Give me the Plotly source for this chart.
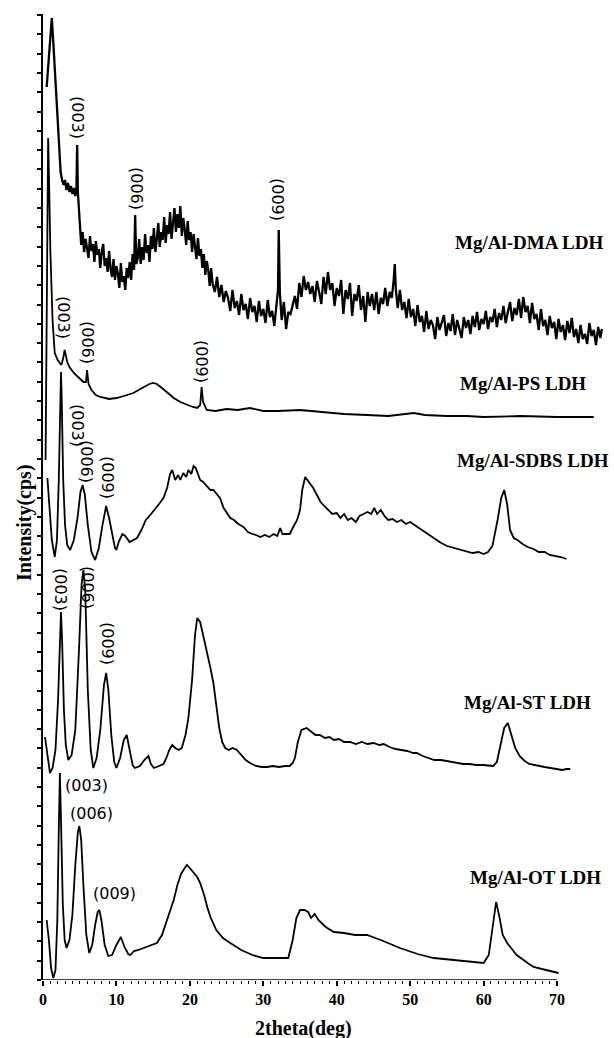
import plotly.graph_objects as go

# ---------------- data (2theta in deg, intensity in arbitrary stacked cps units) -------------
dma_x = [0.5, 0.8, 1.0, 1.2, 1.4, 1.6, 1.8, 2.0, 2.2, 2.4,
         2.6, 2.8, 3.0, 3.2, 3.4, 3.6, 3.8, 4.0, 4.2, 4.4,
         4.55, 4.65, 4.75, 4.9, 5.0, 5.2, 5.4, 5.6, 5.8, 6.0,
         6.2, 6.4, 6.6, 6.8, 7.0, 7.2, 7.4, 7.6, 7.8, 8.0,
         8.2, 8.4, 8.6, 8.8, 9.0, 9.2, 9.4, 9.6, 9.8, 10.0,
         10.2, 10.4, 10.6, 10.8, 11.0, 11.2, 11.4, 11.6, 11.8, 12.0,
         12.2, 12.4, 12.55, 12.7, 12.9, 13.1, 13.3, 13.5, 13.7, 13.9,
         14.1, 14.3, 14.5, 14.7, 14.9, 15.1, 15.3, 15.5, 15.7, 15.9,
         16.1, 16.3, 16.5, 16.7, 16.9, 17.1, 17.3, 17.5, 17.7, 17.9,
         18.1, 18.3, 18.5, 18.7, 18.9, 19.1, 19.3, 19.5, 19.7, 19.9,
         20.1, 20.3, 20.5, 20.7, 20.9, 21.1, 21.3, 21.5, 21.7, 21.9,
         22.1, 22.3, 22.5, 22.7, 22.9, 23.1, 23.4, 23.7, 24.0, 24.3,
         24.6, 24.9, 25.2, 25.5, 25.8, 26.1, 26.4, 26.7, 27.0, 27.3,
         27.6, 27.9, 28.2, 28.5, 28.8, 29.1, 29.4, 29.7, 30.0, 30.3,
         30.6, 30.9, 31.2, 31.5, 31.8, 32.0, 32.1, 32.25, 32.5, 32.8,
         33.1, 33.4, 33.7, 34.0, 34.3, 34.6, 34.9, 35.2, 35.5, 35.8,
         36.1, 36.4, 36.7, 37.0, 37.3, 37.6, 37.9, 38.2, 38.5, 38.8,
         39.1, 39.4, 39.7, 40.0, 40.3, 40.6, 40.9, 41.2, 41.5, 41.8,
         42.1, 42.4, 42.7, 43.0, 43.3, 43.6, 43.9, 44.2, 44.5, 44.8,
         45.1, 45.4, 45.7, 46.0, 46.3, 46.6, 46.9, 47.2, 47.5, 47.75,
         47.9, 48.05, 48.3, 48.6, 48.9, 49.2, 49.5, 49.8, 50.1, 50.4,
         50.7, 51.0, 51.3, 51.6, 51.9, 52.2, 52.5, 52.8, 53.1, 53.4,
         53.7, 54.0, 54.3, 54.6, 54.9, 55.2, 55.5, 55.8, 56.1, 56.4,
         56.7, 57.0, 57.3, 57.6, 57.9, 58.2, 58.5, 58.8, 59.1, 59.4,
         59.7, 60.0, 60.3, 60.6, 60.9, 61.2, 61.5, 61.8, 62.1, 62.4,
         62.7, 63.0, 63.3, 63.6, 63.9, 64.2, 64.5, 64.8, 65.1, 65.4,
         65.7, 66.0, 66.3, 66.6, 66.9, 67.2, 67.5, 67.8, 68.1, 68.4,
         68.7, 69.0, 69.3, 69.6, 69.9, 70.2, 70.5, 70.8, 71.1, 71.4,
         71.7, 72.0, 72.3, 72.6, 72.9, 73.2, 73.5, 73.8, 74.1, 74.4,
         74.7, 75.0, 75.3, 75.6, 75.9, 76.1]
dma_y = [893, 925, 950, 962, 938, 913, 880, 855, 838, 808,
         800, 795, 800, 790, 797, 788, 794, 786, 792, 784,
         790, 835, 788, 770, 747, 735, 748, 728, 741, 733,
         722, 744, 729, 736, 718, 739, 725, 731, 712, 728,
         736, 714, 722, 708, 729, 711, 703, 721, 700, 714,
         706, 692, 717, 698, 704, 690, 712, 702, 718, 700,
         726, 710, 765, 716, 722, 741, 716, 733, 720, 746,
         727, 735, 718, 744, 731, 752, 728, 741, 757, 733,
         748, 740, 763, 737, 755, 746, 768, 741, 760, 772,
         748, 766, 752, 774, 744, 762, 750, 735, 759, 740,
         748, 728, 746, 736, 721, 742, 724, 731, 712, 726,
         705, 719, 710, 694, 712, 696, 688, 703, 683, 695,
         678, 689, 682, 669, 690, 672, 679, 665, 686, 670,
         676, 661, 682, 668, 674, 658, 679, 664, 671, 657,
         680, 663, 669, 654, 673, 690, 750, 688, 660, 678,
         651, 668, 666, 676, 684, 671, 697, 683, 704, 690,
         698, 686, 694, 678, 699, 688, 676, 703, 686, 708,
         690, 697, 674, 692, 684, 700, 666, 690, 681, 697,
         664, 686, 679, 695, 670, 684, 658, 688, 674, 686,
         670, 688, 666, 682, 676, 692, 674, 688, 682, 700,
         716, 690, 672, 690, 670, 678, 662, 681, 663, 671,
         654, 675, 658, 664, 648, 669, 651, 660, 655, 641,
         663, 650, 658, 665, 644, 657, 649, 666, 645, 660,
         651, 642, 663, 652, 660, 646, 664, 653, 668, 650,
         661, 656, 669, 651, 663, 658, 671, 653, 667, 660,
         674, 657, 668, 678, 659, 672, 665, 681, 662, 683,
         668, 674, 657, 677, 661, 666, 650, 671, 654, 660,
         645, 664, 652, 658, 641, 661, 648, 655, 640, 659,
         647, 662, 643, 651, 637, 655, 641, 646, 636, 657,
         644, 650, 635, 653, 642, 651]

ps_x = [0.35, 0.55, 0.7, 0.85, 1.0, 1.3, 1.6, 2.0, 2.5, 2.75, 2.95, 3.3, 3.6, 4.2, 4.8, 5.5, 5.85, 6.0, 6.2, 6.6,
        7.2, 7.8, 9.0, 10.0, 11.0, 12.3, 13.5, 14.5, 15.0, 15.5, 16.2, 16.8, 17.8, 18.7, 19.6, 20.4, 21.0, 21.4, 21.6, 21.8,
        22.3, 23.5, 25.0, 26.5, 28.2, 30.0, 32.0, 35.0, 38.0, 41.0, 44.1, 47.0, 50.5, 52.0, 55.0, 57.7, 60.0, 65.0, 70.0, 75.0]
ps_y = [520, 760, 842, 790, 730, 660, 627, 620, 615, 622, 630, 618, 613, 607, 603, 598, 598, 610, 596, 590,
        585, 583, 581, 582, 584, 587, 592, 596, 597, 596, 592, 588, 582, 578, 575, 573, 572, 575, 593, 578,
        570, 569, 571, 570, 572, 569, 569, 570, 568, 566, 565, 564, 567, 565, 564, 564, 563, 564, 563, 563]

sdbs_x = [0.6, 0.9, 1.2, 1.6, 1.9, 2.15, 2.35, 2.45, 2.55, 2.75, 3.0, 3.3, 3.7, 4.2, 4.7, 5.1, 5.4, 5.7, 6.1, 6.6,
          7.1, 7.6, 8.1, 8.6, 9.0, 9.4, 9.8, 10.0, 10.3, 10.8, 11.2, 11.8, 12.3, 12.8, 13.4, 14.0, 14.6, 15.2, 15.8, 16.4,
          16.9, 17.3, 17.6, 18.0, 18.4, 18.7, 19.1, 19.5, 19.8, 20.2, 20.5, 20.8, 21.1, 21.4, 21.8, 22.3, 22.8, 23.2, 23.6, 24.1,
          24.6, 25.1, 25.5, 26.0, 26.6, 27.3, 27.9, 28.5, 29.0, 29.6, 30.2, 30.8, 31.4, 31.9, 32.3, 32.6, 33.0, 33.6, 34.0, 34.6,
          35.0, 35.3, 35.7, 36.2, 36.8, 37.3, 37.8, 38.3, 38.9, 39.4, 40.0, 40.5, 41.0, 41.5, 42.0, 42.6, 43.1, 43.6, 44.2, 44.7,
          45.1, 45.5, 46.0, 46.5, 47.0, 47.6, 48.2, 48.8, 49.4, 50.0, 50.6, 51.2, 51.8, 52.4, 53.2, 54.0, 55.0, 56.0, 57.0, 57.7,
          58.5, 59.3, 60.0, 60.6, 61.2, 61.9, 62.4, 62.8, 63.2, 63.6, 64.1, 64.6, 65.3, 66.0, 66.8, 67.5, 68.3, 69.0, 69.8, 70.5,
          71.3]
sdbs_y = [502, 470, 440, 423, 440, 500, 580, 608, 580, 500, 455, 435, 430, 440, 462, 488, 495, 485, 455, 428,
          420, 432, 455, 474, 462, 445, 432, 430, 438, 446, 444, 438, 440, 442, 450, 460, 465, 470, 476, 482,
          492, 506, 510, 500, 505, 500, 507, 503, 510, 506, 514, 512, 505, 500, 498, 494, 490, 490, 486, 482,
          472, 466, 462, 460, 456, 453, 448, 446, 445, 443, 445, 443, 446, 444, 452, 446, 446, 446, 452, 460,
          470, 490, 503, 498, 492, 485, 478, 474, 470, 466, 467, 462, 466, 460, 462, 458, 464, 466, 468, 466,
          472, 466, 470, 464, 460, 461, 458, 460, 456, 458, 455, 452, 449, 446, 442, 438, 434, 432, 430, 428,
          427, 428, 426, 428, 434, 460, 482, 490, 476, 450, 442, 440, 436, 433, 431, 428, 428, 425, 424, 423,
          421]

st_x = [0.27, 0.6, 0.95, 1.3, 1.7, 2.05, 2.3, 2.45, 2.6, 2.85, 3.1, 3.45, 3.9, 4.4, 4.9, 5.25, 5.5, 5.75, 6.1, 6.5,
        6.85, 7.3, 7.8, 8.3, 8.6, 8.9, 9.3, 9.7, 10.0, 10.5, 11.0, 11.4, 11.8, 12.2, 12.5, 13.2, 13.8, 14.35, 14.7, 15.1,
        15.8, 16.4, 16.8, 17.2, 17.6, 18.0, 18.5, 18.9, 19.4, 19.8, 20.3, 20.7, 21.0, 21.4, 21.8, 22.3, 22.8, 23.2, 23.6, 24.0,
        24.4, 24.8, 25.3, 25.8, 26.4, 27.0, 27.6, 28.2, 29.0, 29.8, 30.5, 31.3, 32.1, 33.0, 33.6, 34.0, 34.3, 34.7, 35.2, 35.9,
        36.5, 37.1, 37.7, 38.4, 39.0, 39.6, 40.3, 41.0, 41.8, 42.6, 43.4, 44.2, 45.0, 45.8, 46.4, 47.2, 48.0, 48.8, 49.6, 50.4,
        50.9, 51.7, 52.5, 53.3, 54.2, 55.0, 55.4, 56.3, 57.2, 58.1, 59.0, 59.9, 60.7, 61.3, 61.8, 62.3, 62.8, 63.3, 63.8, 64.3,
        64.9, 65.6, 66.2, 66.8, 67.5, 68.3, 69.1, 69.9, 70.7, 71.3, 71.8]
st_y = [243, 225, 207, 212, 230, 280, 345, 368, 340, 270, 235, 220, 225, 250, 330, 395, 410, 390, 290, 230,
        212, 222, 250, 295, 307, 290, 245, 218, 212, 222, 240, 245, 230, 215, 212, 214, 220, 224, 216, 212,
        214, 216, 222, 230, 235, 232, 230, 232, 245, 262, 300, 345, 362, 358, 345, 330, 312, 297, 275, 252,
        238, 232, 230, 232, 230, 225, 220, 217, 214, 213, 213, 214, 213, 214, 214, 217, 222, 238, 250, 252,
        248, 245, 245, 242, 243, 240, 241, 238, 238, 236, 238, 236, 237, 235, 236, 233, 231, 230, 229, 227,
        227, 224, 222, 220, 220, 219, 218, 217, 216, 216, 215, 215, 214, 214, 218, 235, 252, 257, 245, 232,
        224, 219, 216, 215, 214, 213, 212, 211, 210, 211, 211]

ot_x = [0.5, 0.8, 1.1, 1.4, 1.7, 1.95, 2.15, 2.3, 2.45, 2.7, 2.95, 3.2, 3.6, 4.0, 4.4, 4.75, 4.95, 5.2, 5.5, 5.9,
        6.3, 6.7, 7.1, 7.45, 7.67, 7.95, 8.4, 8.9, 9.4, 10.0, 10.6, 11.1, 11.6, 11.9, 12.4, 13.0, 13.7, 14.5, 15.5, 16.2,
        16.9, 17.4, 17.8, 18.3, 18.8, 19.3, 19.6, 20.1, 20.6, 21.0, 21.4, 21.9, 22.4, 22.8, 23.6, 24.5, 25.5, 27.0, 28.5, 30.0,
        32.0, 33.4, 34.0, 34.5, 35.0, 35.6, 36.1, 36.5, 37.0, 37.5, 38.5, 39.6, 41.0, 42.5, 44.1, 46.0, 48.6, 51.0, 53.2, 56.0,
        58.0, 60.0, 60.7, 61.3, 61.7, 62.1, 62.6, 63.2, 64.5, 66.0, 66.8, 68.5, 70.2]
ot_y = [60, 40, 12, 2, 10, 60, 150, 207, 160, 75, 40, 32, 40, 65, 115, 148, 154, 140, 95, 45,
        27, 35, 55, 68, 70, 60, 35, 24, 25, 35, 43, 33, 26, 25, 29, 30, 32, 34, 37, 45,
        60, 72, 80, 95, 106, 112, 115, 111, 107, 103, 97, 86, 72, 63, 50, 42, 37, 30, 25, 22,
        22, 22, 40, 62, 70, 70, 68, 62, 66, 60, 53, 48, 47, 45, 45, 40, 32, 26, 22, 20,
        18, 17, 25, 60, 78, 65, 45, 37, 25, 17, 13, 10, 7]

series_names = ["Mg/Al-DMA LDH", "Mg/Al-PS LDH", "Mg/Al-SDBS LDH", "Mg/Al-ST LDH", "Mg/Al-OT LDH"]
series_label_x = [66.3, 65.4, 66.7, 66.0, 67.0]
series_label_y = [738, 597, 520, 278, 103]

# rotated Miller-index labels (text, x, y)
rot_text = ["(003)", "(006)", "(009)", "(003)", "(006)", "(009)", "(003)", "(006)", "(009)", "(003)", "(006)", "(009)"]
rot_x = [4.77, 12.8, 32.0, 2.86, 6.13, 21.65, 4.77, 5.99, 8.85, 2.45, 6.13, 8.85]
rot_y = [863, 792, 781, 663, 638, 618, 555, 518, 502, 390, 393, 336]
# horizontal labels for the OT pattern
hor_text = ["(003)", "(006)", "(009)"]
hor_x = [5.99, 6.67, 9.67]
hor_y = [195, 167, 87]

x_major = [0, 10, 20, 30, 40, 50, 60, 70]
x_minor = [v for v in range(0, 71) if v % 10 != 0]

# ---------------- figure ----------------
fig = go.Figure()
for xs, ys, w in [(dma_x, dma_y, 2.3), (ps_x, ps_y, 1.8), (sdbs_x, sdbs_y, 1.8), (st_x, st_y, 1.8), (ot_x, ot_y, 1.8)]:
    fig.add_trace(go.Scatter(x=xs, y=ys, mode="lines", line=dict(color="black", width=w), showlegend=False,
                             hoverinfo="skip"))

ann = []
for t, x, y in zip(series_names, series_label_x, series_label_y):
    ann.append(dict(x=x, y=y, xref="x", yref="y", text=t, showarrow=False,
                    font=dict(family="Liberation Serif", size=19, color="black", weight="bold")))
for t, x, y in zip(rot_text, rot_x, rot_y):
    ann.append(dict(x=x, y=y, xref="x", yref="y", text=t, showarrow=False, textangle=90,
                    font=dict(family="DejaVu Sans", size=16, color="black")))
for t, x, y in zip(hor_text, hor_x, hor_y):
    ann.append(dict(x=x, y=y, xref="x", yref="y", text=t, showarrow=False,
                    font=dict(family="DejaVu Sans", size=16, color="black")))
ann.append(dict(x=0.461, y=-0.05, xref="paper", yref="paper", text="2theta(deg)", showarrow=False,
                xanchor="center", yanchor="middle",
                font=dict(family="Liberation Serif", size=20, color="black", weight="bold")))
ann.append(dict(x=-0.0337, y=0.474, xref="paper", yref="paper", text="Intensity(cps)", showarrow=False,
                xanchor="center", yanchor="middle", textangle=-90,
                font=dict(family="Liberation Serif", size=20, color="black", weight="bold")))

fig.add_shape(type="line", xref="x", yref="y", x0=x_major[0], x1=x_major[-1], y0=0, y1=0,
              line=dict(color="black", width=1.6))

fig.update_layout(
    width=614, height=1038,
    margin=dict(l=43, r=7, t=14, b=58),
    paper_bgcolor="white", plot_bgcolor="white",
    annotations=ann,
    xaxis=dict(range=[0, 76.8], showgrid=False, zeroline=False, showline=False,
               tickmode="array", tickvals=x_major, ticks="outside", ticklen=5, tickwidth=1.5, tickcolor="black",
               tickfont=dict(family="Liberation Serif", size=16, color="black", weight="bold"),
               minor=dict(tickmode="array", tickvals=x_minor, ticks="outside", ticklen=3, tickwidth=1.2,
                          tickcolor="black", showgrid=False)),
    yaxis=dict(range=[0, 966], showgrid=False, zeroline=False, showline=True, linecolor="black", linewidth=1.6,
               tick0=0, dtick=19.3, ticks="outside", ticklen=4, tickwidth=1.5, tickcolor="black",
               showticklabels=False),
)

fig.write_html("out.html", config={"displayModeBar": False},
               post_script="document.body.style.margin='0';")
